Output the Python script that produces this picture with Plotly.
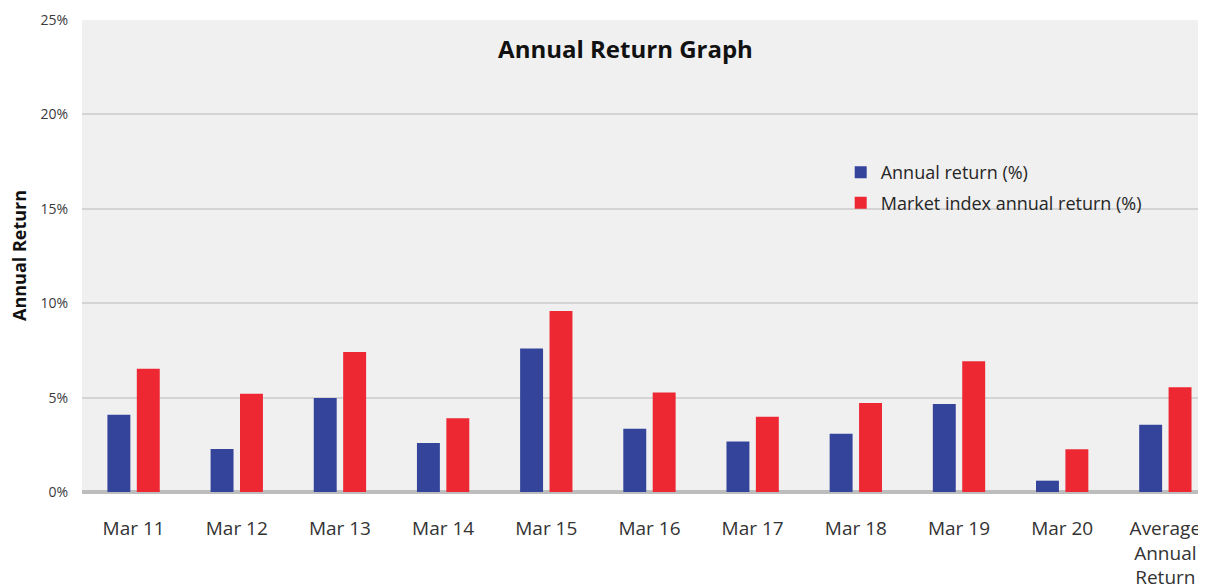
import plotly.graph_objects as go

categories = ["Mar 11", "Mar 12", "Mar 13", "Mar 14", "Mar 15", "Mar 16",
              "Mar 17", "Mar 18", "Mar 19", "Mar 20", "Average<br>Annual<br>Return"]
annual_return = [4.09, 2.28, 4.98, 2.60, 7.60, 3.35, 2.67, 3.08, 4.66, 0.60, 3.56]
market_return = [6.53, 5.20, 7.42, 3.91, 9.59, 5.27, 3.99, 4.72, 6.92, 2.26, 5.55]
y_ticks = [0, 5, 10, 15, 20, 25]

FONT = "Open Sans"
# the page body has an 8px default margin, so the figure is 8px smaller
W, H, OFF = 1198, 579, 8

fig = go.Figure()
fig.add_trace(go.Bar(x=categories, y=annual_return, name="Annual return (%)",
                     legendgroup="a",
                     marker=dict(color="#35449b", line=dict(width=0))))
fig.add_trace(go.Bar(x=categories, y=market_return, name="Market index annual return (%)",
                     legendgroup="b",
                     marker=dict(color="#ee2833", line=dict(width=0))))

fig.update_layout(
    width=W, height=H,
    margin=dict(l=82 - OFF, r=0, t=20 - OFF, b=95, autoexpand=False),
    paper_bgcolor="white",
    plot_bgcolor="#f0f0f0",
    barmode="group",
    bargap=0.43,
    bargroupgap=0.22,
    font=dict(family=FONT, color="#404040"),
    title=dict(text="<b>Annual Return Graph</b>", x=(625.5 - OFF) / W, xref="container",
               xanchor="center", y=1 - (50 - OFF) / H, yref="container", yanchor="middle",
               font=dict(size=24, color="#111111", family=FONT)),
    legend=dict(x=0.675, y=0.716, xanchor="left", yanchor="top",
                bgcolor="rgba(0,0,0,0)", font=dict(size=18, color="#262626"),
                itemwidth=30, tracegroupgap=4),
    showlegend=True,
    annotations=[dict(text="<b>Annual Return</b>", textangle=-90, xref="paper", yref="paper",
                      x=0, y=0.5, xanchor="center", yanchor="middle", xshift=-63,
                      showarrow=False, font=dict(size=18, color="#111111", family=FONT))],
)
fig.update_xaxes(
    range=[-0.5, 10.394], showgrid=False, ticks="outside", ticklen=19,
    tickcolor="rgba(0,0,0,0)", tickfont=dict(size=19, color="#333333"),
    showline=False, zeroline=False, automargin=False,
)
fig.update_yaxes(
    range=[0, 25], tickvals=y_ticks, ticktext=[f"{v}%" for v in y_ticks],
    showgrid=True, gridcolor="#d4d4d4", gridwidth=2,
    zeroline=True, zerolinecolor="#bdbdbd", zerolinewidth=4,
    tickfont=dict(size=14, color="#3a3a3a"), ticks="outside", ticklen=10,
    tickcolor="rgba(0,0,0,0)", automargin=False,
)
fig.write_html("out.html")
